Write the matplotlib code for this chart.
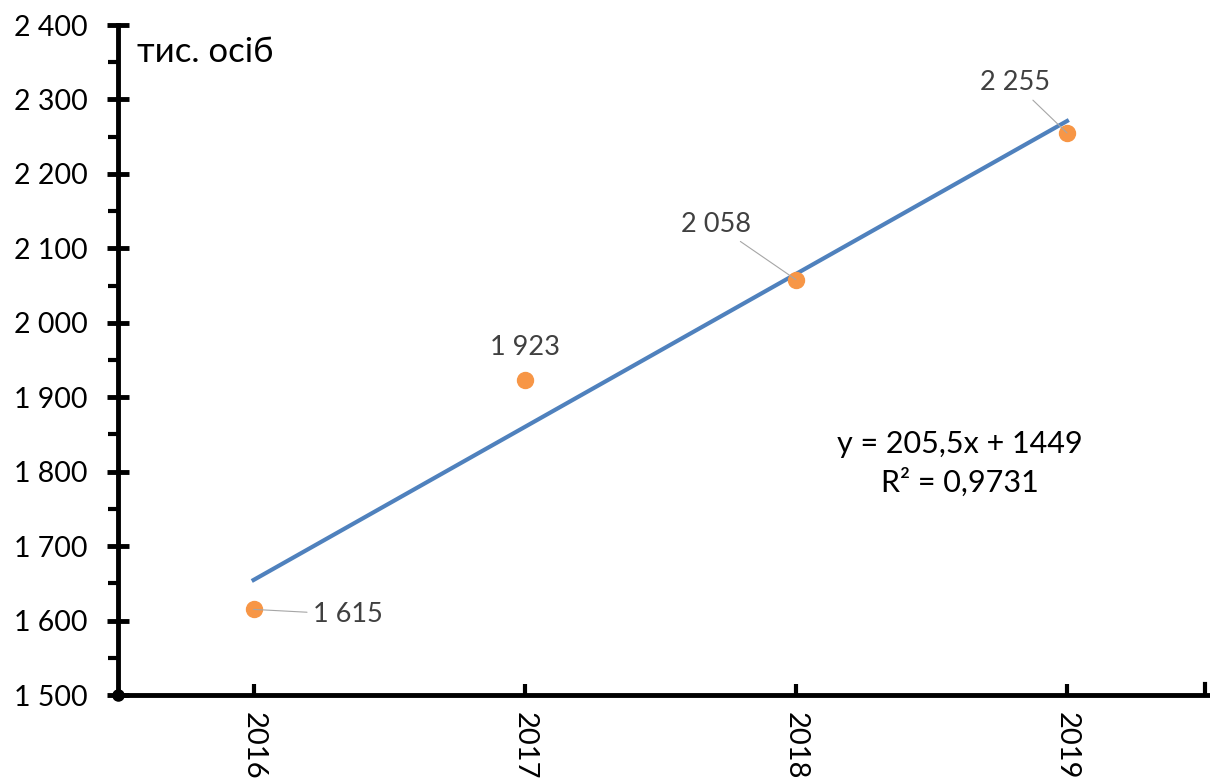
import numpy as np
import matplotlib.pyplot as plt
from matplotlib.ticker import MultipleLocator, FuncFormatter

years = ['2016', '2017', '2018', '2019']
values = [1615, 1923, 2058, 2255]
label_offsets = [(59, -5), (0, 33), (-45, 55), (-17, 50)]  # px offsets of data labels

plt.rcParams['font.family'] = ['Lato', 'DejaVu Sans']

fig = plt.figure(figsize=(12.1, 7.83), dpi=100)
ax = fig.add_axes([118 / 1210, 88 / 783, 1090 / 1210, 670 / 783])

x = np.arange(len(years))
coef = np.polyfit(x + 1, values, 1)
trend = np.polyval(coef, x + 1)
ax.plot(x, trend, color='#4F81BD', lw=3, zorder=2)
ax.plot(x, values, 'o', color='#F79646', ms=11.5, zorder=3)

# data labels with leader lines
for xi, v, (dx, dy) in zip(x, values, label_offsets):
    if dy > 40:
        ha = 'right'
    elif dx > 0:
        ha = 'left'
    else:
        ha = 'center'
    ax.annotate(f'{v:,}'.replace(',', ' '), (xi, v), xytext=(dx * 0.72, dy * 0.72),
                textcoords='offset points', ha=ha, va='center', fontsize=19.5,
                color='#404040',
                arrowprops=dict(arrowstyle='-', color='#A6A6A6', lw=0.8,
                                shrinkA=2, shrinkB=0) if dy < 33 or dy > 40 else None)

ax.text(0.772, 0.375, f'y = {coef[0]:.1f}x + {coef[1]:.0f}'.replace('.', ','),
        transform=ax.transAxes, ha='center', va='center', fontsize=22)
r = np.corrcoef(x, values)[0, 1]
ax.text(0.772, 0.318, f'R² = {r**2:.4f}'.replace('.', ','),
        transform=ax.transAxes, ha='center', va='center', fontsize=22)
ax.text(0.017, 0.96, 'тис. осіб', transform=ax.transAxes, ha='left', va='center',
        fontsize=25)

ax.set_xlim(-0.5, 3.52)
ax.set_ylim(1500, 2400)
ax.yaxis.set_major_locator(MultipleLocator(100))
ax.yaxis.set_minor_locator(MultipleLocator(50))
ax.yaxis.set_major_formatter(FuncFormatter(lambda v, p: f'{v:,.0f}'.replace(',', ' ')))
ax.set_xticks(x)
ax.set_xticklabels(years, rotation=-90, fontsize=21)
ax.tick_params(axis='y', which='major', direction='inout', length=16, width=3.5,
               labelsize=20.5, pad=14)
ax.tick_params(axis='y', which='minor', direction='out', length=7, width=3)
ax.tick_params(axis='x', direction='in', length=8, width=3, pad=12)

for s in ['top', 'right']:
    ax.spines[s].set_visible(False)
for s in ['left', 'bottom']:
    ax.spines[s].set_linewidth(3.5)
ax.plot([-0.5], [1500], 'o', color='black', ms=8, clip_on=False, zorder=5)
ax.plot([3.51, 3.51], [1500, 1515], color='black', lw=3, clip_on=False)

plt.savefig('out.png', dpi=100)
